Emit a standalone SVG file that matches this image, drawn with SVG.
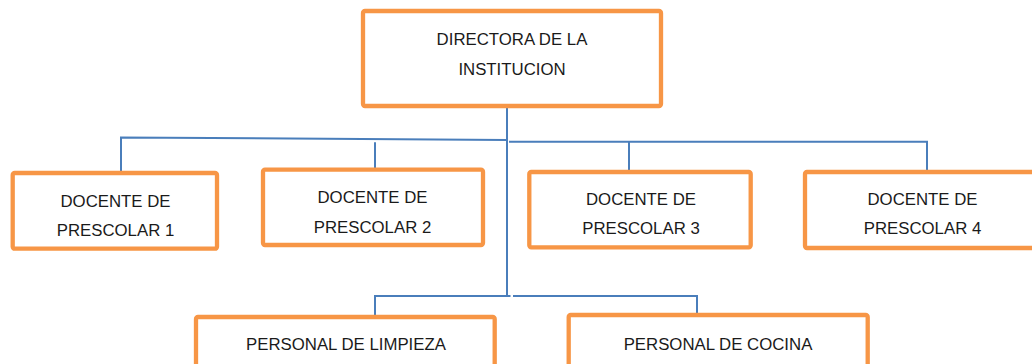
<svg xmlns="http://www.w3.org/2000/svg" width="1032" height="364" viewBox="0 0 1032 364">
<style>
.box{fill:#fff;stroke:#F79646;stroke-width:4.3;}
.lbl{font-family:"Liberation Sans",Arial,sans-serif;font-size:16.8px;fill:#1a1a1a;text-anchor:middle;}
.con{fill:none;stroke:#4A7EBB;stroke-width:2;}
</style>
<rect width="1032" height="364" fill="#fff"/>
<g id="connectors">
<line class="con" x1="507" y1="106" x2="507" y2="296"/>
<polyline class="con" points="121,171 121,137.5 507,140"/>
<polyline class="con" points="509,141.8 927,141.8 927,170"/>
<line class="con" x1="375" y1="142.3" x2="375" y2="168"/>
<line class="con" x1="629" y1="141.8" x2="629" y2="170"/>
<polyline class="con" points="375,317 375,296 510.5,296"/>
<polyline class="con" points="513,296 697,296 697,313"/>
</g>
<g id="directora">
<rect class="box" x="363" y="11" width="298" height="95" rx="2"/>
<text class="lbl" x="512" y="45">DIRECTORA DE LA</text>
<text class="lbl" x="512" y="75">INSTITUCION</text>
</g>
<g id="docente1">
<rect class="box" x="12.7" y="173" width="204.3" height="75.7" rx="2"/>
<text class="lbl" x="115.5" y="206.5">DOCENTE DE</text>
<text class="lbl" x="115.5" y="236">PRESCOLAR 1</text>
</g>
<g id="docente2">
<rect class="box" x="263" y="169.7" width="220" height="75.3" rx="2"/>
<text class="lbl" x="372.5" y="203.3">DOCENTE DE</text>
<text class="lbl" x="372.5" y="233.3">PRESCOLAR 2</text>
</g>
<g id="docente3">
<rect class="box" x="529.3" y="172" width="221.4" height="75.3" rx="2"/>
<text class="lbl" x="641" y="205">DOCENTE DE</text>
<text class="lbl" x="641" y="234">PRESCOLAR 3</text>
</g>
<g id="docente4">
<rect class="box" x="805" y="172" width="240" height="76" rx="2"/>
<text class="lbl" x="922.5" y="205">DOCENTE DE</text>
<text class="lbl" x="922.5" y="234">PRESCOLAR 4</text>
</g>
<g id="limpieza">
<rect class="box" x="196" y="317" width="298.7" height="60" rx="2"/>
<text class="lbl" x="346" y="350">PERSONAL DE LIMPIEZA</text>
</g>
<g id="cocina">
<rect class="box" x="568.7" y="315" width="299" height="60" rx="2"/>
<text class="lbl" x="718" y="350">PERSONAL DE COCINA</text>
</g>
</svg>
